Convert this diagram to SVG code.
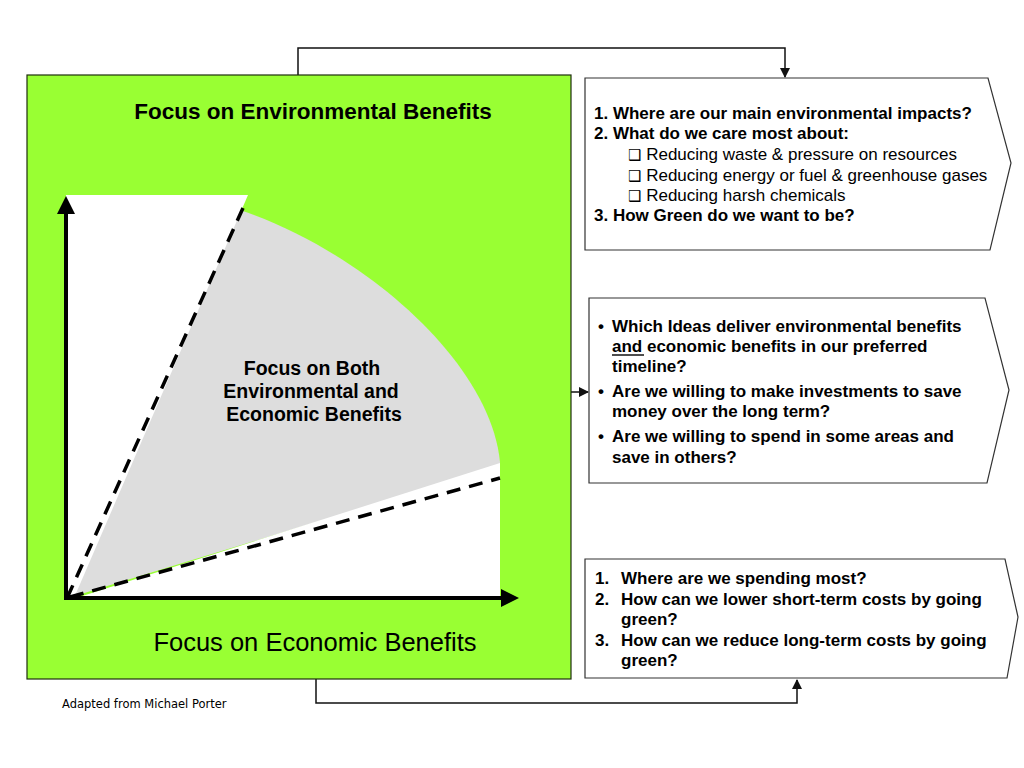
<svg xmlns="http://www.w3.org/2000/svg" width="1024" height="768" viewBox="0 0 1024 768">
<defs>
<style>
.b{font-family:"Liberation Sans",Arial,sans-serif;font-weight:bold;font-size:17px;fill:#000}
.r{font-family:"Liberation Sans",Arial,sans-serif;font-size:17px;fill:#000}
.ck{font-family:"DejaVu Sans",sans-serif;font-size:15px}
.box{fill:#fff;stroke:#333;stroke-width:1.2}
.conn{fill:none;stroke:#111;stroke-width:1.5}
.dash{fill:none;stroke:#000;stroke-width:3.5;stroke-dasharray:14,9}
</style>
<marker id="ah" markerWidth="10" markerHeight="10" refX="9" refY="5" orient="auto" markerUnits="userSpaceOnUse">
<path d="M0,0 L10,5 L0,10 Z" fill="#111"/>
</marker>
<marker id="big" markerWidth="18" markerHeight="18" refX="2" refY="9" orient="auto" markerUnits="userSpaceOnUse">
<path d="M0,0 L18,9 L0,18 Z" fill="#000"/>
</marker>
</defs>
<rect width="1024" height="768" fill="#fff"/>

<g id="connectors">
<polyline class="conn" points="298,75 298,48 785,48 785,77" marker-end="url(#ah)"/>
<polyline class="conn" points="316,658 316,703 797,703 797,680" marker-end="url(#ah)"/>
<line class="conn" x1="447" y1="392" x2="588" y2="392" marker-end="url(#ah)"/>
</g>

<g id="green-panel">
<rect x="27" y="75" width="544" height="604" fill="#99FF33" stroke="#1e2e0e" stroke-width="1.2"/>
<text x="313" y="119" text-anchor="middle" font-family="Liberation Sans, Arial, sans-serif" font-weight="bold" font-size="22.5">Focus on Environmental Benefits</text>
<path d="M68,598 L240,210 C360,250 490,360 500,462 L500,466 Z" fill="#DDDDDD"/>
<polygon points="66,195 248,195 74,598 66,598" fill="#fff"/>
<polygon points="76,598 500,463 500,598" fill="#fff"/>
<line class="dash" x1="243" y1="208" x2="68" y2="596"/>
<line class="dash" x1="70" y1="597" x2="500" y2="478"/>
<line x1="66" y1="600" x2="66" y2="212" stroke="#000" stroke-width="4" marker-end="url(#big)"/>
<line x1="64" y1="598" x2="503" y2="598" stroke="#000" stroke-width="4" marker-end="url(#big)"/>
<text x="315" y="651" text-anchor="middle" font-family="Liberation Sans, Arial, sans-serif" font-size="25.5">Focus on Economic Benefits</text>
</g>

<g id="both-label">
<text class="b" text-anchor="middle" style="font-size:19.5px"><tspan x="312" y="375">Focus on Both</tspan><tspan x="311" y="398">Environmental and</tspan><tspan x="314" y="421">Economic Benefits</tspan></text>
</g>

<g id="env-questions">
<polygon class="box" points="585,78 988,78 1011,163 990,250 585,250"/>
<text class="b" x="594" y="119">1. Where are our main environmental impacts?</text>
<text class="b" x="594" y="139">2. What do we care most about:</text>
<text class="r" x="628" y="160"><tspan class="ck">❑</tspan> Reducing waste &amp; pressure on resources</text>
<text class="r" x="628" y="181"><tspan class="ck">❑</tspan> Reducing energy or fuel &amp; greenhouse gases</text>
<text class="r" x="628" y="201"><tspan class="ck">❑</tspan> Reducing harsh chemicals</text>
<text class="b" x="594" y="221">3. How Green do we want to be?</text>
</g>

<g id="both-questions">
<polygon class="box" points="589,298 985,298 1009,390 987,483 589,483"/>
<text class="b" x="598" y="332">•</text>
<text class="b" x="612" y="332">Which Ideas deliver environmental benefits</text>
<text class="b" x="612" y="352">and economic benefits in our preferred</text>
<line x1="612" y1="355" x2="644" y2="355" stroke="#000" stroke-width="1.4"/>
<text class="b" x="612" y="372">timeline?</text>
<text class="b" x="598" y="397">•</text>
<text class="b" x="612" y="397">Are we willing to make investments to save</text>
<text class="b" x="612" y="417">money over the long term?</text>
<text class="b" x="598" y="442">•</text>
<text class="b" x="612" y="442">Are we willing to spend in some areas and</text>
<text class="b" x="612" y="463">save in others?</text>
</g>

<g id="econ-questions">
<polygon class="box" points="585,559 1005,559 1018,617 1007,678 585,678"/>
<text class="b" x="595" y="584">1.</text>
<text class="b" x="621" y="584">Where are we spending most?</text>
<text class="b" x="595" y="605">2.</text>
<text class="b" x="621" y="605">How can we lower short-term costs by going</text>
<text class="b" x="621" y="625">green?</text>
<text class="b" x="595" y="646">3.</text>
<text class="b" x="621" y="646">How can we reduce long-term costs by going</text>
<text class="b" x="621" y="666">green?</text>
</g>

<text x="62" y="708" font-family="DejaVu Sans, Verdana, sans-serif" font-size="11.5">Adapted from Michael Porter</text>
</svg>
